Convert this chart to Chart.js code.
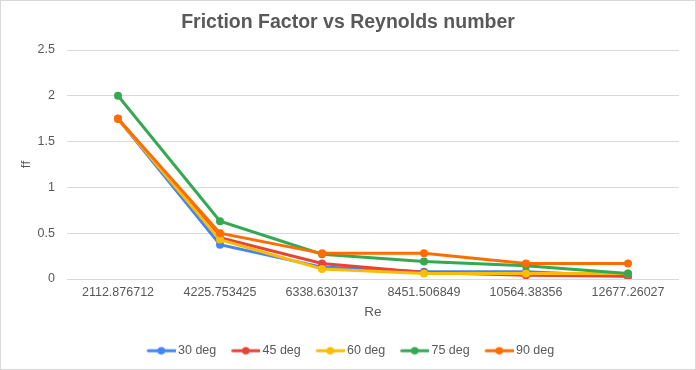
<!DOCTYPE html>
<html>
<head>
<meta charset="utf-8">
<script src="https://cdn.jsdelivr.net/npm/chart.js@4/dist/chart.umd.min.js"></script>
<style>
html,body{margin:0;padding:0;background:#fff;}
#wrap{width:696px;height:370px;}
</style>
</head>
<body>
<div id="wrap"><canvas id="c" width="696" height="370"></canvas></div>
<script>
const categories = ["2112.876712","4225.753425","6338.630137","8451.506849","10564.38356","12677.26027"];
const seriesNames = ["30 deg","45 deg","60 deg","75 deg","90 deg"];
const deg30 = [1.75, 0.375, 0.13, 0.08, 0.08, 0.03];
const deg45 = [1.75, 0.45, 0.17, 0.07, 0.04, 0.03];
const deg60 = [1.75, 0.43, 0.11, 0.06, 0.06, 0.06];
const deg75 = [2.0, 0.63, 0.27, 0.19, 0.145, 0.06];
const deg90 = [1.75, 0.50, 0.28, 0.28, 0.17, 0.17];
const yTicks = [0, 0.5, 1, 1.5, 2, 2.5];
const colors = ["#4285F4","#EA4335","#FBBC04","#34A853","#FF6D01"];
const seriesValues = [deg30, deg45, deg60, deg75, deg90];

const FONT = "'Liberation Sans', Arial, sans-serif";
const TXT = "#595959";

function legendIcon(color){
  const cv = document.createElement('canvas');
  cv.width = 38; cv.height = 10;
  const g = cv.getContext('2d');
  g.strokeStyle = color; g.lineWidth = 3; g.lineCap = 'round';
  g.beginPath(); g.moveTo(10.5, 5); g.lineTo(37, 5); g.stroke();
  g.fillStyle = color;
  g.beginPath(); g.arc(23.5, 5, 3.8, 0, Math.PI*2); g.fill();
  return cv;
}
const icons = colors.map(legendIcon);

const framePlugin = {
  id: 'frame',
  afterLayout(chart){
    [chart.legend, chart.titleBlock].forEach(b => {
      if (b) { b.left = 0; b.right = chart.width; b.width = chart.width; }
    });
  },
  beforeDraw(chart){
    const ctx = chart.ctx;
    ctx.save();
    ctx.fillStyle = '#fff';
    ctx.fillRect(0,0,chart.width,chart.height);
    ctx.strokeStyle = '#d9d9d9';
    ctx.lineWidth = 1;
    ctx.strokeRect(0.5,0.5,chart.width-1,chart.height-1);
    ctx.restore();
  }
};

const datasets = seriesNames.map((name,i)=>({
  label: name,
  data: seriesValues[i],
  borderColor: colors[i],
  backgroundColor: colors[i],
  borderWidth: 3,
  pointRadius: 4,
  pointBorderWidth: 0,
  pointBackgroundColor: colors[i],
  tension: 0,
  order: seriesNames.length - i
}));

new Chart(document.getElementById('c'), {
  type: 'line',
  data: { labels: categories, datasets },
  plugins: [framePlugin],
  options: {
    responsive: false,
    animation: false,
    devicePixelRatio: 1,
    layout: { padding: { left: 0, right: 17, top: 0, bottom: 3 } },
    plugins: {
      tooltip: { enabled: false },
      title: {
        display: true,
        text: 'Friction Factor vs Reynolds number',
        color: TXT,
        font: { family: FONT, size: 19.5, weight: 'bold', lineHeight: 1.2 },
        padding: { top: 10.8, bottom: 15.8 }
      },
      legend: {
        position: 'bottom',
        labels: {
          usePointStyle: true,
          pointStyleWidth: 30,
          padding: 10,
          color: TXT,
          font: { family: FONT, size: 12.5 },
          generateLabels(chart){
            return chart.data.datasets.map((ds,i)=>({
              text: ds.label,
              fillStyle: colors[i],
              strokeStyle: colors[i],
              lineWidth: 0,
              pointStyle: icons[i],
              fontColor: TXT,
              hidden: false,
              datasetIndex: i
            }));
          }
        }
      }
    },
    scales: {
      x: {
        offset: true,
        grid: { display: false, drawTicks: false },
        border: { display: false },
        ticks: { color: TXT, font: { family: FONT, size: 12.5 }, padding: 6, maxRotation: 0, autoSkip: false },
        title: { display: true, text: 'Re', color: TXT, font: { family: FONT, size: 13.5 }, padding: { top: 0, bottom: 13.7 } },
        afterFit(scale){ scale.height = 55.5; }
      },
      y: {
        min: 0, max: 2.5,
        afterBuildTicks(scale){ scale.ticks = yTicks.map(v=>({value:v})); },
        grid: { color: '#d9d9d9', drawTicks: false, lineWidth: 1 },
        border: { display: false },
        ticks: { color: TXT, font: { family: FONT, size: 12.5 }, padding: 12, callback: v => String(v) },
        title: { display: true, text: 'ff', color: TXT, font: { family: FONT, size: 13.5 }, padding: { top: 18, bottom: 0 } },
        afterFit(scale){ scale.width = 67; }
      }
    }
  }
});
</script>
</body>
</html>
